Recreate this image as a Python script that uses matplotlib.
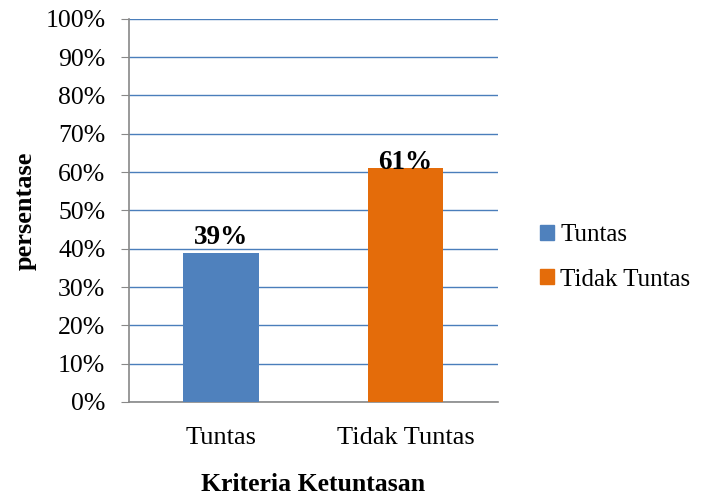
import matplotlib.pyplot as plt
from matplotlib.patches import Patch

# ===== DATA =====
kategori = ["Tuntas", "Tidak Tuntas"]
persen = [39, 61]
label_nilai = ["39%", "61%"]
warna = ["#4F81BD", "#E46C0A"]
yticks = list(range(0, 101, 10))

# geser label nilai (satuan sumbu y)
geser_label = [2.3, -0.3]

plt.rcParams["font.family"] = ["Liberation Serif", "DejaVu Serif"]

fig = plt.figure(figsize=(7.01, 4.95), dpi=100)
ax = fig.add_axes([0.184, 0.188, 0.526, 0.774])

x = range(len(kategori))
ax.bar(x, persen, width=0.41, color=warna, zorder=3)

for xi, v, lab, g in zip(x, persen, label_nilai, geser_label):
    ax.text(xi, v + g, lab, ha="center", va="baseline",
            fontsize=19.5, fontweight="bold", zorder=4)

ax.set_xlim(-0.5, 1.5)
ax.set_ylim(0, 100)
ax.set_yticks(yticks)
ax.set_yticklabels([f"{t}%" for t in yticks], fontsize=18.5)
ax.set_xticks(list(x))
ax.set_xticklabels(kategori, fontsize=19)
ax.tick_params(axis="x", length=0, pad=18)
ax.tick_params(axis="y", length=6, color="#888888", pad=11)

ax.grid(axis="y", color="#4A7EBB", linewidth=1, zorder=0)
for s in ["top", "right"]:
    ax.spines[s].set_visible(False)
for s in ["left", "bottom"]:
    ax.spines[s].set_color("#888888")
    ax.spines[s].set_linewidth(1.2)

ax.set_ylabel("persentase", fontsize=19, fontweight="bold", labelpad=6)
ax.set_xlabel("Kriteria Ketuntasan", fontsize=18.5, fontweight="bold", labelpad=17)

handles = [Patch(color=c) for c in warna]
fig.legend(handles, kategori, loc="center left", bbox_to_anchor=(0.771, 0.48),
           frameon=False, fontsize=18, handlelength=0.55, handleheight=0.55,
           handletextpad=0.25, labelspacing=0.9, borderpad=0, borderaxespad=0)

fig.savefig("out.png", dpi=100)
